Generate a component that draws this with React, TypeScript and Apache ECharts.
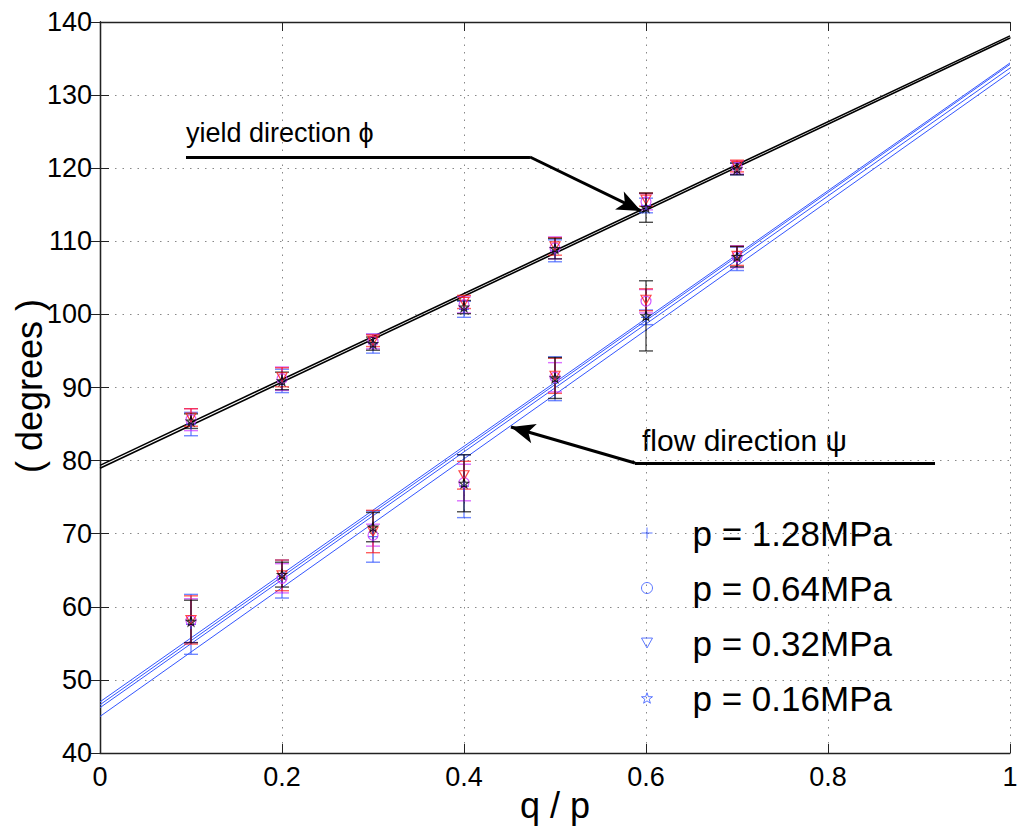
import React, { useEffect, useRef } from 'react';
import * as echarts from 'echarts';

// ---------- data ----------
const X_VALUES = [0.1, 0.2, 0.3, 0.4, 0.5, 0.6, 0.7];
const PRESSURE_NAMES = ['p = 1.28MPa', 'p = 0.64MPa', 'p = 0.32MPa', 'p = 0.16MPa'];

// yield direction (phi) per pressure
const YIELD_128 = [85.0, 90.9, 96.0, 100.7, 108.7, 114.9, 119.9];
const YIELD_128_ERR = [1.6, 1.6, 1.3, 1.1, 1.5, 1.0, 0.8];
const YIELD_064 = [85.6, 91.2, 96.3, 101.3, 109.1, 115.4, 120.1];
const YIELD_064_ERR = [1.5, 1.6, 1.0, 1.1, 1.5, 1.1, 0.9];
const YIELD_032 = [85.9, 91.4, 96.4, 101.7, 109.3, 115.7, 120.3];
const YIELD_032_ERR = [1.2, 1.3, 0.8, 0.9, 1.2, 0.9, 0.8];
const YIELD_016 = [85.4, 90.9, 96.0, 101.0, 109.0, 114.6, 119.9];
const YIELD_016_ERR = [1.0, 1.2, 0.9, 0.9, 1.4, 2.0, 0.8];

// flow direction (psi) per pressure
const FLOW_128 = [57.6, 63.8, 69.6, 76.5, 91.2, 99.6, 107.6];
const FLOW_128_ERR = [4.1, 2.6, 3.5, 4.3, 3.0, 1.0, 1.6];
const FLOW_064 = [58.1, 63.9, 69.8, 77.0, 91.4, 101.8, 107.9];
const FLOW_064_ERR = [3.0, 2.0, 1.5, 2.5, 2.0, 1.6, 1.5];
const FLOW_032 = [58.2, 64.3, 70.3, 78.0, 91.6, 102.0, 108.0];
const FLOW_032_ERR = [3.3, 2.1, 2.9, 1.9, 2.4, 1.5, 1.3];
const FLOW_016 = [58.0, 64.4, 70.9, 76.9, 91.3, 99.8, 107.9];
const FLOW_016_ERR = [2.9, 1.7, 2.0, 3.9, 2.8, 4.8, 1.4];

// fitted lines: [value at q/p = 0, value at q/p = 1]
const YIELD_FITS = [[79.35, 138.1], [78.95, 137.8]];
const FLOW_FITS = [[47.0, 134.4], [46.6, 134.2], [46.2, 133.7], [45.0, 133.1]];

// annotation polylines (data coordinates)
const YIELD_ARROW = [[0.0945, 121.53], [0.4725, 121.53], [0.5945, 114.15]];
const FLOW_ARROW = [[0.9176, 79.67], [0.5879, 79.67], [0.4516, 84.6]];

const X_TICKS = { min: 0, max: 1, interval: 0.2 };
const Y_TICKS = { min: 40, max: 140, interval: 10 };

const X_TITLE = 'q / p';
const Y_TITLE = '( degrees )';

// ---------- styling ----------
const FONT = '"Liberation Sans", Arial, Helvetica, sans-serif';
const BLUE = '#3355ff';
const COLORS = [BLUE, '#cc33ff', '#ff1a1a', '#000000'];

const PLUS = 'path://M5,0 L5,10 M0,5 L10,5';
const TRI_DOWN = 'path://M0,0 L10,0 L5,9 Z';
const STAR =
  'path://M10,0 L12.35,6.76 L19.51,6.91 L13.8,11.24 L15.88,18.09 L10,14 L4.12,18.09 L6.2,11.24 L0.49,6.91 L7.65,6.76 Z';
const SYMBOLS = [PLUS, 'circle', TRI_DOWN, STAR];
const SYMBOL_SIZES = [10, 10, [10, 9], 9];

export default function App() {
  const ref = useRef<HTMLDivElement>(null);

  useEffect(() => {
    const chart = echarts.init(ref.current!, null, { renderer: 'svg' });

    const yieldSets = [
      [YIELD_128, YIELD_128_ERR],
      [YIELD_064, YIELD_064_ERR],
      [YIELD_032, YIELD_032_ERR],
      [YIELD_016, YIELD_016_ERR],
    ];
    const flowSets = [
      [FLOW_128, FLOW_128_ERR],
      [FLOW_064, FLOW_064_ERR],
      [FLOW_032, FLOW_032_ERR],
      [FLOW_016, FLOW_016_ERR],
    ];

    const series: any[] = [];

    // fitted lines
    YIELD_FITS.forEach((f, i) => {
      series.push({
        type: 'line',
        data: [[0, f[0]], [1, f[1]]],
        symbol: 'none',
        silent: true,
        z: 3,
        lineStyle: { color: '#000', width: 1.6 },
        markLine:
          i === 0
            ? {
                silent: true,
                animation: false,
                symbol: ['none', 'none'],
                label: { show: false },
                lineStyle: { color: '#000', width: 3, type: 'solid' },
                data: [
                  [{ coord: YIELD_ARROW[0] }, { coord: YIELD_ARROW[1] }],
                  [
                    { coord: YIELD_ARROW[1], symbol: 'none' },
                    { coord: YIELD_ARROW[2], symbol: 'arrow', symbolSize: [15, 24] },
                  ],
                  [{ coord: FLOW_ARROW[0] }, { coord: FLOW_ARROW[1] }],
                  [
                    { coord: FLOW_ARROW[1], symbol: 'none' },
                    { coord: FLOW_ARROW[2], symbol: 'arrow', symbolSize: [15, 24] },
                  ],
                ],
              }
            : undefined,
      });
    });
    FLOW_FITS.forEach((f) => {
      series.push({
        type: 'line',
        data: [[0, f[0]], [1, f[1]]],
        symbol: 'none',
        silent: true,
        z: 3,
        lineStyle: { color: BLUE, width: 1 },
      });
    });

    // error bars
    const errorBar = (vals: number[], errs: number[], color: string) => ({
      type: 'custom',
      silent: true,
      z: 4,
      data: X_VALUES.map((x, i) => [x, vals[i] - errs[i], vals[i] + errs[i]]),
      encode: { x: 0, y: [1, 2] },
      renderItem: (params: any, api: any) => {
        const x = api.value(0);
        const lo = api.coord([x, api.value(1)]);
        const hi = api.coord([x, api.value(2)]);
        const w = 7;
        const style = { stroke: color, lineWidth: 1.4, opacity: 0.7 };
        return {
          type: 'group',
          children: [
            { type: 'line', shape: { x1: hi[0], y1: hi[1], x2: lo[0], y2: lo[1] }, style },
            { type: 'line', shape: { x1: hi[0] - w, y1: hi[1], x2: hi[0] + w, y2: hi[1] }, style },
            { type: 'line', shape: { x1: lo[0] - w, y1: lo[1], x2: lo[0] + w, y2: lo[1] }, style },
          ],
        };
      },
    });

    PRESSURE_NAMES.forEach((_, k) => {
      series.push(errorBar(yieldSets[k][0], yieldSets[k][1], COLORS[k]));
      series.push(errorBar(flowSets[k][0], flowSets[k][1], COLORS[k]));
    });

    // markers
    PRESSURE_NAMES.forEach((name, k) => {
      const pts = X_VALUES.map((x, i) => [x, yieldSets[k][0][i]]).concat(
        X_VALUES.map((x, i) => [x, flowSets[k][0][i]])
      );
      series.push({
        type: 'scatter',
        name,
        data: pts,
        symbol: SYMBOLS[k],
        symbolSize: SYMBOL_SIZES[k],
        silent: true,
        z: 5,
        itemStyle: { color: 'none', borderColor: COLORS[k], borderWidth: 1.2 },
      });
    });

    const axisCommon = {
      axisLine: { show: true, lineStyle: { color: '#222', width: 1.3 } },
      axisTick: { show: true, inside: true, length: 9, lineStyle: { color: '#222', width: 1 } },
    };

    const option: any = {
      animation: false,
      backgroundColor: '#fff',
      grid: {
        left: 100,
        top: 22,
        right: 14,
        bottom: 77,
        containLabel: false,
        outerBoundsMode: 'none',
      },
      xAxis: [
        {
          type: 'value',
          ...X_TICKS,
          position: 'bottom',
          ...axisCommon,
          axisLabel: { color: '#000', fontSize: 27, fontFamily: FONT, margin: 10 },
          splitLine: { show: true, lineStyle: { color: '#888', width: 1, type: [1.5, 6] } },
        },
        {
          type: 'value',
          ...X_TICKS,
          position: 'top',
          ...axisCommon,
          axisLabel: { show: false },
          splitLine: { show: false },
        },
      ],
      yAxis: [
        {
          type: 'value',
          ...Y_TICKS,
          position: 'left',
          ...axisCommon,
          axisLabel: { color: '#000', fontSize: 27, fontFamily: FONT, margin: 8 },
          splitLine: { show: true, lineStyle: { color: '#888', width: 1, type: [1.5, 6] } },
        },
        {
          type: 'value',
          ...Y_TICKS,
          position: 'right',
          ...axisCommon,
          axisLabel: { show: false },
          splitLine: { show: false },
        },
      ],
      legend: {
        show: true,
        orient: 'vertical',
        left: 634,
        top: 508,
        itemWidth: 11,
        itemHeight: 11,
        itemGap: 15,
        selectedMode: false,
        textStyle: {
          color: '#000',
          fontSize: 35,
          fontFamily: FONT,
          lineHeight: 40,
          padding: [0, 0, 0, 35],
        },
        data: PRESSURE_NAMES.map((name, k) => ({
          name,
          icon: SYMBOLS[k],
          itemStyle: { color: 'none', borderColor: BLUE, borderWidth: 1 },
        })),
      },
      graphic: [
        {
          type: 'text',
          x: 555,
          y: 805,
          style: {
            text: X_TITLE,
            fontSize: 36,
            fontFamily: FONT,
            fill: '#000',
            align: 'center',
            verticalAlign: 'middle',
          },
        },
        {
          type: 'text',
          x: 29,
          y: 386,
          rotation: Math.PI / 2,
          style: {
            text: Y_TITLE,
            fontSize: 36,
            fontFamily: FONT,
            fill: '#000',
            align: 'center',
            verticalAlign: 'middle',
          },
        },
        {
          type: 'text',
          x: 186,
          y: 133,
          style: {
            text: 'yield direction ϕ',
            fontSize: 27,
            fontFamily: FONT,
            fill: '#000',
            verticalAlign: 'middle',
            align: 'left',
          },
        },
        {
          type: 'text',
          x: 642,
          y: 440,
          style: {
            text: 'flow direction ψ',
            fontSize: 30,
            fontFamily: FONT,
            fill: '#000',
            verticalAlign: 'middle',
            align: 'left',
          },
        },
      ],
      series,
    };

    chart.setOption(option);
    return () => chart.dispose();
  }, []);

  return (
    <div
      ref={ref}
      style={{ position: 'fixed', left: 0, top: 0, width: 1024, height: 830, background: '#fff' }}
    />
  );
}
